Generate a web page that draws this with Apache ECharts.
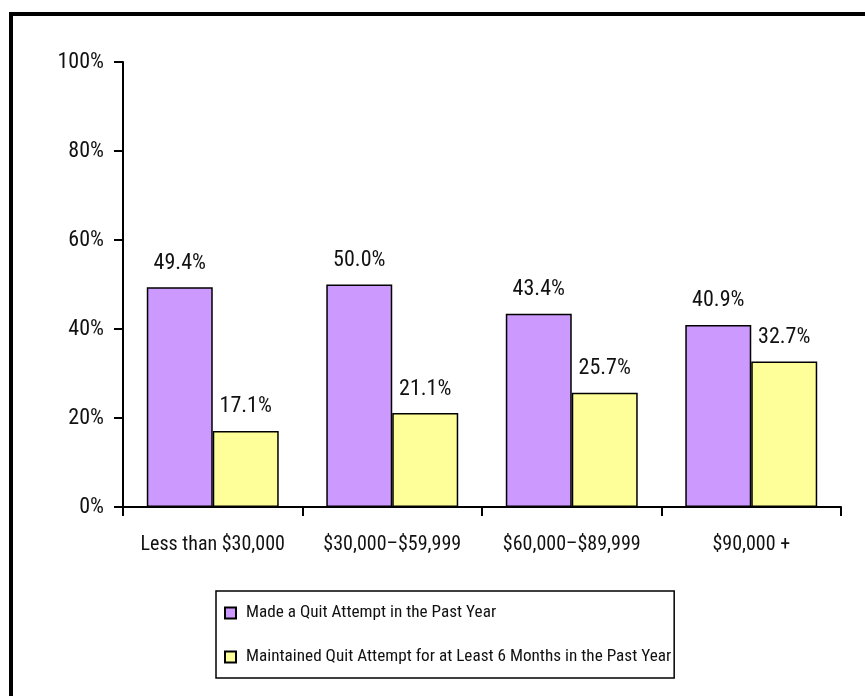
<!DOCTYPE html>
<html><head><meta charset="utf-8">
<script src="https://cdn.jsdelivr.net/npm/echarts@6/dist/echarts.min.js"></script>
<style>html,body{margin:0;padding:0;background:#fff}#c{width:865px;height:696px}</style>
</head><body><div id="c"></div>
<script>
const categories = ['Less than $30,000', '$30,000\u2013$59,999', '$60,000\u2013$89,999', '$90,000 +'];
const seriesNames = ['Made a Quit Attempt in the Past Year', 'Maintained Quit Attempt for at Least 6 Months in the Past Year'];
const madeQuit = [49.4, 50.0, 43.4, 40.9];
const maintainedQuit = [17.1, 21.1, 25.7, 32.7];
const yTicks = [0, 20, 40, 60, 80, 100];

const FONT = '"Roboto Condensed", "DejaVu Sans Condensed", sans-serif';
const chart = echarts.init(document.getElementById('c'));
const labelCfg = {show: true, position: 'top', distance: 13, color: '#111', fontFamily: FONT, fontSize: 22,
  formatter: p => p.value.toFixed(1) + '%'};
chart.setOption({
  animation: false,
  textStyle: {fontFamily: FONT},
  graphic: [{type: 'rect', shape: {x: 11, y: 14, width: 900, height: 800},
    style: {fill: 'none', stroke: '#000', lineWidth: 4}, silent: true}],
  grid: {left: 123, right: 24, top: 62, bottom: 189},
  legend: {
    orient: 'vertical', left: 216, top: 591,
    data: seriesNames,
    icon: 'rect', itemWidth: 11, itemHeight: 11, itemGap: 24,
    padding: [12, 3, 11, 8],
    borderColor: '#000', borderWidth: 1.5,
    textStyle: {fontFamily: FONT, fontSize: 17.2, color: '#111', lineHeight: 20, padding: [0, 0, 0, 5]}
  },
  xAxis: {
    type: 'category', data: categories,
    axisLine: {lineStyle: {color: '#000', width: 2}},
    axisTick: {show: true, length: 9, lineStyle: {color: '#000', width: 2}},
    axisLabel: {color: '#111', fontFamily: FONT, fontSize: 20, margin: 28, interval: 0}
  },
  yAxis: {
    type: 'value', min: 0, max: 100, interval: 20,
    axisLine: {show: true, lineStyle: {color: '#000', width: 2}},
    axisTick: {show: true, length: 9, lineStyle: {color: '#000', width: 2}},
    splitLine: {show: false},
    axisLabel: {color: '#111', fontFamily: FONT, fontSize: 22, margin: 19,
      formatter: v => yTicks.includes(v) ? v + '%' : ''}
  },
  series: [
    {name: seriesNames[0], type: 'bar', data: madeQuit, barGap: '0%', barCategoryGap: '26.5%',
     itemStyle: {color: '#CC99FF', borderColor: '#000', borderWidth: 1.5}, label: labelCfg},
    {name: seriesNames[1], type: 'bar', data: maintainedQuit, barGap: '0%', barCategoryGap: '26.5%',
     itemStyle: {color: '#FFFF99', borderColor: '#000', borderWidth: 1.5}, label: labelCfg}
  ]
});
</script></body></html>
